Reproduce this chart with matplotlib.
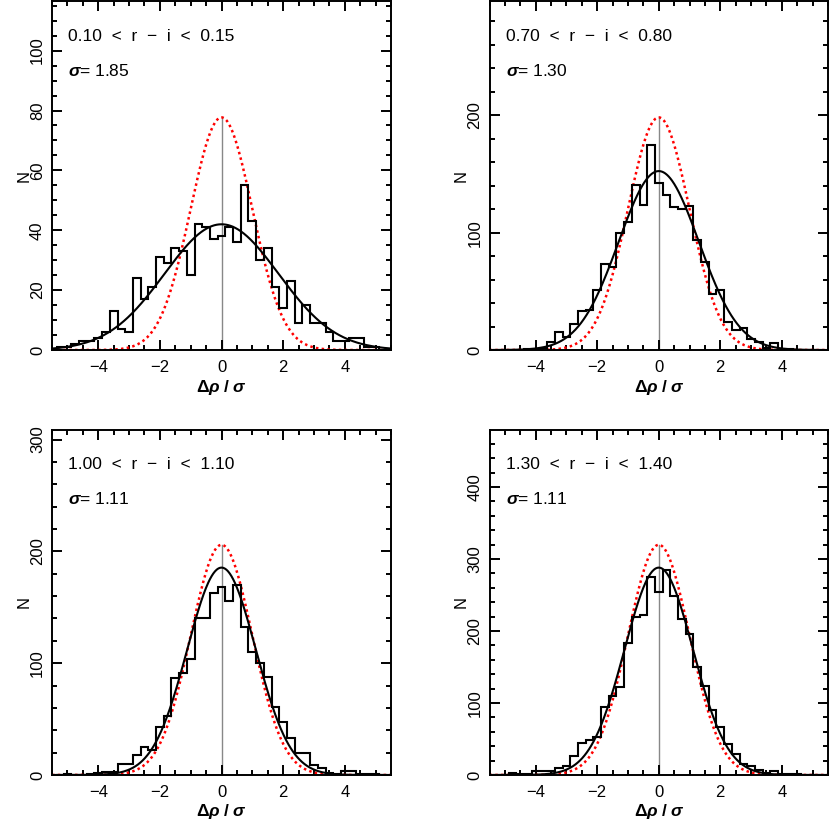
import matplotlib.pyplot as plt
import numpy as np
from matplotlib.ticker import MultipleLocator

plt.rcParams['font.family'] = ['Liberation Sans', 'DejaVu Sans']
plt.rcParams['mathtext.fontset'] = 'custom'
plt.rcParams['mathtext.rm'] = 'Liberation Sans:bold'
plt.rcParams['mathtext.it'] = 'Liberation Sans:italic:bold'
plt.rcParams['mathtext.bf'] = 'Liberation Sans:bold'

# histogram bins of width 0.25, centred from -5.25 to 5.25
bin_centers = np.arange(-5.25, 5.26, 0.25)

counts_1 = [1, 1, 2, 3, 3, 4, 6, 13, 7, 6, 24, 17, 21, 31, 29, 34, 33, 25, 42, 41, 37,
            38, 41, 36, 55, 43, 30, 34, 21, 14, 23, 9, 15, 9, 9, 6, 3, 3, 4, 4, 1, 1, 0]
counts_2 = [0, 0, 0, 0, 1, 1, 2, 7, 15, 11, 22, 33, 34, 51, 73, 71, 100, 109, 141, 124, 175,
            142, 132, 122, 120, 123, 94, 75, 48, 51, 24, 17, 19, 9, 7, 2, 6, 1, 1, 0, 0, 0, 0]
counts_3 = [0, 1, 0, 0, 1, 2, 3, 3, 10, 10, 18, 25, 22, 43, 53, 87, 91, 104, 140, 140, 163,
            168, 156, 170, 132, 110, 100, 88, 61, 47, 33, 20, 20, 9, 6, 2, 1, 4, 4, 1, 1, 1, 0]
counts_4 = [0, 0, 3, 1, 2, 5, 5, 6, 10, 12, 26, 44, 49, 53, 95, 110, 122, 183, 219, 222, 275,
            254, 285, 248, 216, 196, 150, 124, 90, 67, 43, 29, 15, 12, 7, 3, 6, 1, 1, 1, 0, 0, 0]

# fitted gaussian: peak height and width (sigma)
fit_peaks = [42.0, 152.5, 185.5, 288.0]
fit_sigmas = [1.85, 1.30, 1.11, 1.11]

color_labels = ['0.10  <  r  \u2212  i  <  0.15', '0.70  <  r  \u2212  i  <  0.80',
                '1.00  <  r  \u2212  i  <  1.10', '1.30  <  r  \u2212  i  <  1.40']
y_major = [20, 100, 100, 100]
y_minor = [5, 20, 20, 20]

all_counts = [counts_1, counts_2, counts_3, counts_4]

fig = plt.figure(figsize=(8.3, 8.24), dpi=100)
positions = [
    [0.0627, 0.5752, 0.4084, 0.4235],
    [0.5898, 0.5752, 0.4078, 0.4235],
    [0.0627, 0.0595, 0.4084, 0.4190],
    [0.5898, 0.0595, 0.4078, 0.4190],
]

edges = np.append(bin_centers - 0.125, bin_centers[-1] + 0.125)
xx = np.linspace(-5.5, 5.5, 600)

for i in range(4):
    ax = fig.add_axes(positions[i])
    peak = fit_peaks[i]
    sig = fit_sigmas[i]
    red_peak = peak * sig  # same area, unit width
    ymax = 1.5 * red_peak

    ax.stairs(all_counts[i], edges, color='black', linewidth=1.5, baseline=None, zorder=3)
    ax.plot(xx, peak * np.exp(-xx**2 / (2 * sig**2)), color='black', linewidth=1.5, zorder=4)
    ax.plot(xx, red_peak * np.exp(-xx**2 / 2), color='red', linewidth=1.8,
            linestyle=(0, (1, 1.3)), zorder=2)
    ax.plot([0, 0], [0, red_peak], color='#888888', linewidth=1.0, zorder=1)

    ax.set_xlim(-5.5, 5.5)
    ax.set_ylim(0, ymax)
    ax.xaxis.set_major_locator(MultipleLocator(2))
    ax.xaxis.set_minor_locator(MultipleLocator(0.5))
    ax.yaxis.set_major_locator(MultipleLocator(y_major[i]))
    ax.yaxis.set_minor_locator(MultipleLocator(y_minor[i]))
    ax.tick_params(which='both', direction='in', top=True, right=True, width=1.4)
    ax.tick_params(which='major', length=7.5)
    ax.tick_params(which='minor', length=3.8)
    ax.tick_params(axis='x', which='major', pad=7, labelsize=12)
    ax.tick_params(axis='y', which='major', pad=5, labelsize=12, labelrotation=90)
    for lab in ax.get_yticklabels():
        lab.set_va('center')
    for sp in ax.spines.values():
        sp.set_linewidth(1.4)

    ax.set_xlabel(r'$\Delta\rho\;/\;\sigma$', fontsize=12.5, labelpad=2)
    ax.set_ylabel('N', fontsize=12, labelpad=-1)

    ax.text(0.048, 0.899, color_labels[i], transform=ax.transAxes, fontsize=12.5,
            ha='left', va='center')
    ax.text(0.048, 0.799, r'$\sigma$= ' + '%.2f' % sig, transform=ax.transAxes,
            fontsize=12.5, ha='left', va='center')

plt.savefig('out.png', dpi=100, facecolor='white')
